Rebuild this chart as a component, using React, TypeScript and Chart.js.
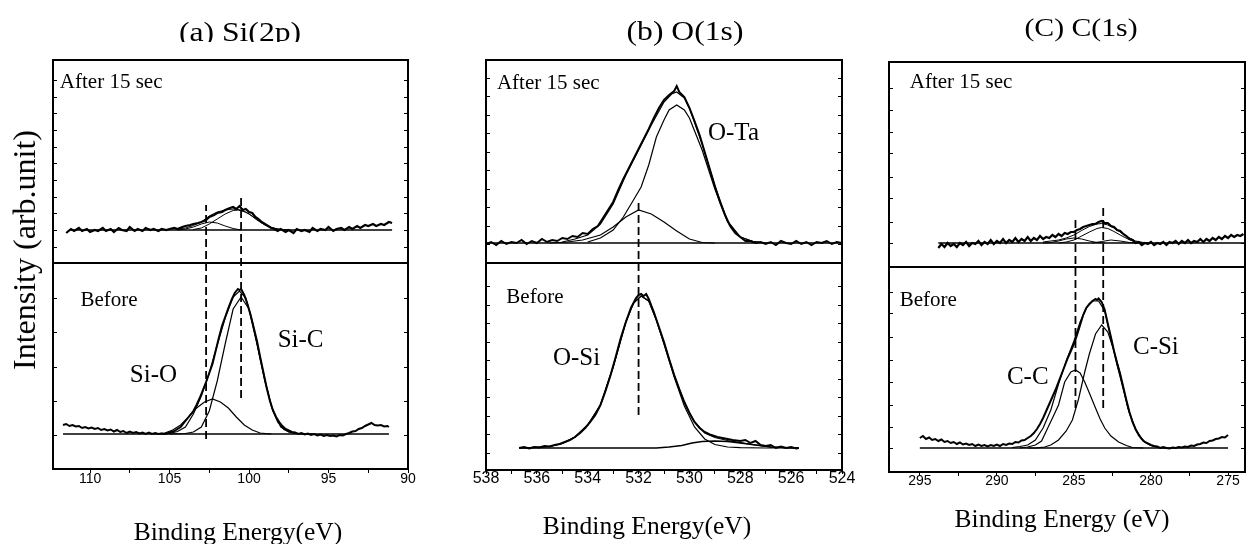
import React, { useEffect, useRef } from "react";
import { Chart, registerables } from "chart.js";
Chart.register(...registerables);

type Pt = [number, number];

const SERIF = '"Liberation Serif", "Times New Roman", Times, serif';
const SANS = '"Liberation Sans", Arial, Helvetica, sans-serif';

// ================= (a) Si(2p) =================
const siAfterRaw: Pt[] = [
  [111.5, 236], [111.2, 240], [111, 238], [110.7, 241], [110.5, 238], [110.2, 240], [110, 237], [109.7, 239],
  [109.5, 238], [109.2, 241], [109, 238], [108.7, 240], [108.5, 237], [108.2, 241], [108, 239], [107.7, 238],
  [107.5, 242], [107.2, 238], [107, 240], [106.7, 238], [106.5, 241], [106.2, 239], [106, 240], [105.7, 238],
  [105.5, 240], [105.2, 239], [105, 240], [104.7, 241], [104.5, 240], [104.2, 242], [104, 243], [103.7, 244],
  [103.5, 245], [103.2, 246], [103, 247], [102.7, 249], [102.5, 252], [102.2, 254], [102, 256], [101.7, 257],
  [101.5, 259], [101.2, 261], [101, 262], [100.8, 260], [100.6, 263], [100.4, 259], [100.2, 260], [100, 257],
  [99.8, 256], [99.6, 252], [99.4, 250], [99.2, 247], [99, 245], [98.8, 243], [98.6, 241], [98.4, 240],
  [98.2, 238], [98, 240], [97.7, 237], [97.5, 239], [97.2, 236], [97, 240], [96.7, 238], [96.5, 239],
  [96.2, 237], [96, 241], [95.7, 238], [95.5, 240], [95.2, 239], [95, 242], [94.7, 238], [94.5, 240],
  [94.2, 241], [94, 239], [93.7, 242], [93.5, 240], [93.2, 243], [93, 241], [92.7, 244], [92.5, 243],
  [92.2, 245], [92, 243], [91.7, 245], [91.5, 244], [91.2, 247], [91, 246],
];
const siAfterEnvelope: Pt[] = [
  [104.5, 240], [104, 241], [103.5, 243.5], [103, 247], [102.5, 253], [102, 257], [101.5, 259], [101, 260],
  [100.5, 259], [100, 255], [99.5, 249], [99, 244], [98.5, 241], [98, 239.5], [97.5, 239],
];
const siAfterSiC: Pt[] = [
  [103.5, 239.5], [103, 241], [102.5, 245], [102, 250], [101.5, 255], [101, 258.5], [100.7, 259], [100.2, 257],
  [99.7, 252], [99.2, 246], [98.7, 242], [98.2, 240], [97.5, 239],
];
const siAfterSiO: Pt[] = [
  [104.5, 239], [104, 240], [103.5, 242], [103, 245], [102.5, 247], [102, 246], [101.5, 243], [101, 240.5], [100.5, 239],
];
const siAfterBase: Pt[] = [[111.3, 239], [91, 239]];

const siBeforeRaw: Pt[] = [
  [111.7, 44], [111.5, 45], [111.3, 43], [111.1, 44], [110.9, 42.5], [110.7, 43], [110.5, 41], [110.3, 42],
  [110.1, 40.5], [109.9, 41.5], [109.7, 40], [109.5, 41], [109.3, 39], [109.1, 40], [108.9, 38.5], [108.7, 39.5],
  [108.5, 37.5], [108.3, 39], [108.1, 37], [107.9, 38], [107.7, 36], [107.5, 37.5], [107.3, 36], [107.1, 37],
  [106.9, 35.5], [106.7, 36.5], [106.5, 35], [106.3, 36.5], [106.1, 35], [105.9, 36], [105.7, 35], [105.5, 35.5],
  [105.3, 35], [105.1, 36], [104.9, 37], [104.7, 38], [104.5, 40], [104.3, 42], [104.1, 46], [103.9, 50],
  [103.7, 54], [103.5, 58], [103.3, 64], [103.1, 71], [102.9, 79], [102.7, 87], [102.5, 96], [102.3, 105],
  [102.1, 118], [101.9, 131], [101.7, 143], [101.5, 152], [101.3, 161], [101.1, 169], [100.9, 176], [100.8, 178],
  [100.7, 180], [100.6, 179], [100.5, 180], [100.4, 177], [100.3, 174], [100.1, 165], [99.9, 154], [99.7, 141],
  [99.5, 128], [99.3, 112], [99.1, 97], [98.9, 82], [98.7, 69], [98.5, 59], [98.3, 52], [98.1, 47],
  [97.9, 43], [97.7, 40], [97.5, 38.5], [97.3, 37], [97.1, 36.5], [96.9, 35], [96.7, 36], [96.5, 34.5],
  [96.3, 35.5], [96.1, 34], [95.9, 35], [95.7, 33.5], [95.5, 34.5], [95.3, 33], [95.1, 34], [94.9, 33],
  [94.7, 33.5], [94.5, 32.5], [94.3, 34], [94.1, 33.5], [93.9, 35], [93.7, 36], [93.5, 37.5], [93.3, 38],
  [93.1, 40], [92.9, 41], [92.7, 43], [92.5, 44.5], [92.3, 46], [92.1, 44], [91.9, 43.5], [91.7, 44],
  [91.5, 42.5], [91.3, 43], [91.2, 42],
];
const siBeforeEnvelope: Pt[] = [
  [105.5, 35], [105, 35.5], [104.5, 37.5], [104, 42], [103.5, 55], [103, 73], [102.5, 96], [102, 124],
  [101.5, 151], [101, 172], [100.6, 178], [100.2, 171], [99.8, 148], [99.4, 119], [99, 89], [98.6, 63],
  [98.2, 47], [97.8, 39.5], [97.4, 36.5], [97, 35.5], [96.5, 35],
];
const siBeforeSiC: Pt[] = [
  [105, 35], [104, 35.5], [103.5, 37], [103, 42], [102.5, 58], [102, 88], [101.5, 125], [101, 160],
  [100.5, 172], [100, 160], [99.5, 125], [99, 88], [98.5, 58], [98, 42], [97.5, 37], [97, 35.5], [96, 35],
];
const siBeforeSiO: Pt[] = [
  [106, 35], [105.3, 36], [104.8, 39], [104.3, 44], [103.8, 52], [103.3, 61], [102.8, 67], [102.3, 70],
  [101.8, 67], [101.3, 61], [100.8, 52], [100.3, 44], [99.8, 39], [99.3, 36], [98.6, 35],
];
const siBeforeBase: Pt[] = [[111.7, 35], [91.2, 35]];
const siDivider: Pt[] = [[90, 206], [112.33, 206]];
const siMarkSiO: Pt[] = [[102.7, 30], [102.7, 264]];
const siMarkSiC: Pt[] = [[100.5, 71], [100.5, 274]];
const siTicksY = [34, 68, 102, 137, 171, 222, 239, 256, 272, 289, 306, 322, 339, 356, 372, 389];

// ================= (b) O(1s) =================
const oAfterRaw: Pt[] = [
  [538, 226], [537.8, 228], [537.6, 225], [537.4, 229], [537.2, 226], [537, 228], [536.8, 227], [536.6, 230],
  [536.4, 226], [536.2, 229], [536, 227], [535.8, 231], [535.6, 228], [535.4, 230], [535.2, 229], [535, 232],
  [534.8, 231], [534.6, 234], [534.4, 233], [534.2, 237], [534, 236], [533.8, 241], [533.6, 244], [533.4, 252],
  [533.2, 260], [533, 268], [532.8, 280], [532.6, 291], [532.4, 301], [532.2, 311], [532, 321], [531.8, 331],
  [531.6, 341], [531.4, 352], [531.2, 362], [531, 370], [530.8, 375], [530.6, 379], [530.5, 384], [530.4, 378],
  [530.2, 373], [530, 362], [529.8, 349], [529.6, 335], [529.4, 318], [529.2, 301], [529, 284], [528.8, 268],
  [528.6, 255], [528.4, 244], [528.2, 237], [528, 233], [527.8, 229], [527.6, 229], [527.4, 227], [527.2, 228],
  [527, 226], [526.8, 228], [526.6, 225], [526.4, 229], [526.2, 227], [526, 226], [525.8, 229], [525.6, 226],
  [525.4, 228], [525.2, 225], [525, 228], [524.8, 227], [524.6, 229], [524.4, 226], [524.2, 228], [524, 227],
];
const oAfterEnvelope: Pt[] = [
  [535, 228], [534.5, 231], [534, 235], [533.5, 246], [533, 266], [532.5, 295], [532, 320], [531.5, 345],
  [531, 368], [530.7, 376], [530.5, 378], [530.2, 372], [530, 362], [529.5, 326], [529, 284], [528.5, 249],
  [528, 233], [527.5, 228.5], [527, 227],
];
const oAfterOTa: Pt[] = [
  [534, 228], [533.5, 232], [533, 240], [532.6, 253], [532.2, 270], [531.9, 283], [531.6, 305], [531.3, 333],
  [531, 350], [530.8, 360], [530.5, 365], [530.2, 360], [530, 352], [529.5, 320], [529, 281], [528.5, 248],
  [528, 233], [527.5, 228.5], [527, 227],
];
const oAfterOSi: Pt[] = [
  [535.5, 227], [534.8, 228], [534.2, 230], [533.5, 235], [533, 243], [532.5, 253], [532, 260], [531.5, 256],
  [531, 248], [530.5, 239], [530, 231], [529.5, 227.5], [529, 227],
];
const oAfterBase: Pt[] = [[538, 227], [524, 227]];

const oBeforeRaw: Pt[] = [
  [536.7, 22], [536.5, 23], [536.3, 21.5], [536.1, 23], [535.9, 22.5], [535.7, 24], [535.5, 23.5], [535.3, 25],
  [535.1, 26], [534.9, 28], [534.7, 30], [534.5, 33], [534.3, 37], [534.1, 42], [533.9, 48], [533.7, 55],
  [533.5, 65], [533.3, 79], [533.1, 95], [532.9, 113], [532.7, 132], [532.5, 148], [532.3, 162], [532.1, 172],
  [532, 175], [531.9, 176], [531.8, 174], [531.7, 176], [531.6, 171], [531.4, 158], [531.2, 143], [531, 128],
  [530.8, 111], [530.6, 95], [530.4, 81], [530.2, 68], [530, 57], [529.8, 48], [529.6, 42], [529.4, 38],
  [529.2, 35.5], [528.9, 33], [528.6, 31.5], [528.3, 30], [528, 29], [527.8, 30], [527.6, 27], [527.4, 29],
  [527.2, 25], [527, 24], [526.8, 25], [526.6, 22], [526.4, 23.5], [526.2, 22], [526, 23], [525.8, 21.5], [525.7, 22],
];
const oBeforeEnvelope: Pt[] = [
  [536.7, 22], [535.5, 23.5], [535, 26.5], [534.5, 33], [534, 45], [533.5, 65], [533, 103], [532.5, 148],
  [532.2, 167], [531.9, 174], [531.6, 169], [531.3, 150], [531, 127], [530.6, 95], [530.2, 67], [529.8, 48],
  [529.4, 37], [529, 32.5], [528.5, 29.5], [528, 27.3], [527.4, 25], [526.8, 23], [526.2, 22.3], [525.7, 22],
];
const oBeforeOSi: Pt[] = [
  [536.7, 22], [536, 22.5], [535.5, 23.5], [535, 26.5], [534.5, 33], [534, 45], [533.5, 65], [533, 103],
  [532.5, 148], [532.2, 167], [531.9, 174], [531.6, 169], [531.3, 150], [531, 126], [530.6, 93], [530.2, 64],
  [529.8, 43], [529.4, 31], [529, 25.5], [528.5, 23], [528, 22.3], [527, 22], [525.7, 22],
];
const oBeforeMinor: Pt[] = [
  [536.7, 22], [531.3, 22], [530.8, 23], [530.3, 24.5], [529.9, 27], [529.5, 28.5], [529, 29], [528.5, 28.5],
  [528, 27], [527.4, 25], [526.8, 23], [526.2, 22.3], [525.7, 22],
];
const oDivider: Pt[] = [[524, 207], [538, 207]];
const oMarkOSi: Pt[] = [[532, 55], [532, 270]];
const oTicksY = [17, 36, 54, 73, 91, 110, 128, 147, 165, 184, 226, 244, 263, 281, 300, 318, 337, 355, 374, 392];

// ================= (c) C(1s) =================
const cAfterRaw: Pt[] = [
  [293.8, 224], [293.6, 228], [293.4, 225], [293.2, 229], [293, 226], [292.8, 228], [292.6, 225], [292.4, 229],
  [292.2, 227], [292, 230], [291.8, 226], [291.6, 229], [291.4, 228], [291.2, 231], [291, 227], [290.8, 230],
  [290.6, 228], [290.4, 232], [290.2, 228], [290, 231], [289.8, 229], [289.6, 233], [289.4, 229], [289.2, 232],
  [289, 230], [288.8, 234], [288.6, 230], [288.4, 233], [288.2, 231], [288, 235], [287.8, 231], [287.6, 234],
  [287.4, 232], [287.2, 236], [287, 233], [286.8, 235], [286.6, 234], [286.4, 237], [286.2, 235], [286, 238],
  [285.8, 236], [285.6, 239], [285.4, 238], [285.2, 240], [285, 240], [284.8, 242], [284.6, 243], [284.4, 245],
  [284.2, 246], [284, 247], [283.8, 248], [283.6, 248], [283.4, 250], [283.2, 251], [283, 249], [282.8, 249],
  [282.6, 246], [282.4, 245], [282.2, 242], [282, 241], [281.8, 238], [281.6, 236], [281.4, 233], [281.2, 232],
  [281, 229], [280.8, 230], [280.6, 227], [280.4, 229], [280.2, 228], [280, 230], [279.8, 227], [279.6, 229],
  [279.4, 228], [279.2, 230], [279, 227], [278.8, 230], [278.6, 229], [278.4, 231], [278.2, 228], [278, 231],
  [277.8, 229], [277.6, 232], [277.4, 229], [277.2, 231], [277, 230], [276.8, 233], [276.6, 230], [276.4, 233],
  [276.2, 231], [276, 234], [275.8, 232], [275.6, 235], [275.4, 233], [275.2, 236], [275, 234], [274.8, 237],
  [274.6, 235], [274.4, 237], [274.2, 236], [274, 238],
];
const cAfterEnvelope: Pt[] = [
  [287, 230], [286, 232], [285.5, 234], [285, 237], [284.5, 241.5], [284, 245.5], [283.5, 248], [283.2, 248.5],
  [282.8, 247], [282.4, 244], [282, 240], [281.5, 235], [281, 231], [280.5, 229.5], [280, 229],
];
const cAfterCSi: Pt[] = [
  [286, 229], [285.5, 230], [285, 232], [284.5, 236], [284, 240], [283.5, 243.5], [283.2, 244.5], [282.8, 243.5],
  [282.4, 240.5], [282, 237], [281.5, 233], [281, 230], [280.5, 229],
];
const cAfterCC: Pt[] = [
  [287, 229], [286.5, 229.5], [286, 231], [285.5, 233], [285, 234], [284.5, 233], [284, 231], [283.5, 229.5], [283, 229],
];
const cAfterMinor: Pt[] = [
  [283.8, 229], [283.2, 230.5], [282.6, 232], [282, 231], [281.4, 229.5], [280.8, 229],
];
const cAfterBase: Pt[] = [[293.8, 229], [273.9, 229]];

const cBeforeRaw: Pt[] = [
  [295, 34], [294.8, 36], [294.6, 33], [294.4, 34.5], [294.2, 32], [294, 33], [293.8, 31], [293.6, 32.5],
  [293.4, 30], [293.2, 31], [293, 29], [292.8, 30], [292.6, 28], [292.4, 29.5], [292.2, 27.5], [292, 28.5],
  [291.8, 27], [291.6, 28], [291.4, 26], [291.2, 27.5], [291, 26], [290.8, 27], [290.6, 25.5], [290.4, 27],
  [290.2, 26], [290, 27.5], [289.8, 26], [289.6, 28], [289.4, 27], [289.2, 28.5], [289, 28], [288.8, 30],
  [288.6, 29.5], [288.4, 31.5], [288.2, 32], [288, 34], [287.8, 36], [287.6, 39], [287.4, 43], [287.2, 48],
  [287, 54], [286.8, 61], [286.6, 68], [286.4, 75], [286.2, 82], [286, 90], [285.8, 98], [285.6, 106],
  [285.4, 114], [285.2, 121], [285, 128], [284.8, 137], [284.6, 147], [284.4, 157], [284.2, 164], [284, 168],
  [283.8, 171], [283.6, 173], [283.5, 172], [283.4, 173.5], [283.2, 170], [283, 162], [282.8, 148], [282.6, 135],
  [282.4, 121], [282.2, 109], [282, 98], [281.8, 85], [281.6, 72], [281.4, 60], [281.2, 50], [281, 43],
  [280.8, 37], [280.6, 33], [280.4, 30], [280.2, 28.5], [280, 27], [279.8, 26], [279.6, 25.5], [279.4, 24],
  [279.2, 25], [279, 24], [278.8, 23.5], [278.6, 24.5], [278.4, 24], [278.2, 25], [278, 24.5], [277.8, 25.5],
  [277.6, 25], [277.4, 26.5], [277.2, 26], [277, 27.5], [276.8, 28], [276.6, 29.5], [276.4, 29], [276.2, 31],
  [276, 31.5], [275.8, 33], [275.6, 33.5], [275.4, 35], [275.2, 34.5], [275, 37],
];
const cBeforeEnvelope: Pt[] = [
  [289, 24.5], [288.5, 25.5], [288, 27], [287.5, 32], [287, 44], [286.5, 62], [286, 88], [285.5, 111],
  [285, 131], [284.6, 150], [284.2, 164], [283.8, 171], [283.4, 171], [283, 161], [282.6, 134], [282.2, 107],
  [281.8, 83], [281.4, 59], [281, 43], [280.5, 31], [280, 26.5], [279.5, 24.5], [279, 24],
];
const cBeforeCC: Pt[] = [
  [288.5, 24], [288, 25], [287.5, 27], [287.1, 31], [286.7, 44], [286.3, 57], [286, 67], [285.6, 90],
  [285.2, 100], [284.9, 102], [284.6, 99], [284.3, 90], [284, 79], [283.6, 64], [283.3, 53], [283, 44],
  [282.6, 36], [282.1, 30], [281.6, 26.5], [281.2, 24.5], [280.5, 24],
];
const cBeforeCSi: Pt[] = [
  [288, 24], [287.4, 24.2], [286.9, 25], [286.5, 27], [286, 32], [285.5, 41], [285.1, 52], [284.7, 73],
  [284.3, 100], [284, 118], [283.6, 138], [283.2, 147], [282.8, 140], [282.4, 121], [282, 98], [281.5, 64],
  [281, 42], [280.5, 31], [280, 26.5], [279.5, 24.5], [279, 24],
];
const cBeforeBase: Pt[] = [[295, 24], [275, 24]];
const cDivider: Pt[] = [[273.9, 205], [297, 205]];
const cMarkCC: Pt[] = [[284.9, 64], [284.9, 254]];
const cMarkCSi: Pt[] = [[283.1, 64], [283.1, 267]];
const cTicksY = [24, 45, 67, 90, 112, 135, 159, 180, 229, 250, 274, 295, 319, 340, 362, 384];

// ================= panel definitions =================
type Curve = { pts: Pt[]; w: number; dash?: number[] };
type Label = { text: string; x: number; y: number; size: number };
type PanelDef = {
  canvasLeft: number; canvasWidth: number; padLeft: number; padRight: number; padTop: number; padBottom: number;
  xMin: number; xMax: number; yMax: number; step: number; labelEvery: number; tickFont: number; tickPad: number;
  curves: Curve[]; yTicks: number[]; labels: Label[];
};

const DASH = [8, 4];

const panels: PanelDef[] = [
  {
    canvasLeft: 0, canvasWidth: 440, padLeft: 53, padRight: 32, padTop: 60, padBottom: 45,
    xMin: 90, xMax: 112.33, yMax: 409, step: 2.5, labelEvery: 5, tickFont: 14, tickPad: -1,
    curves: [
      { pts: siDivider, w: 2 },
      { pts: siAfterBase, w: 1.3 }, { pts: siAfterSiO, w: 1 }, { pts: siAfterSiC, w: 1 },
      { pts: siAfterEnvelope, w: 1 }, { pts: siAfterRaw, w: 2.2 },
      { pts: siBeforeBase, w: 1.3 }, { pts: siBeforeSiO, w: 1.2 }, { pts: siBeforeSiC, w: 1.2 },
      { pts: siBeforeEnvelope, w: 1.2 }, { pts: siBeforeRaw, w: 2 },
      { pts: siMarkSiO, w: 1.8, dash: DASH }, { pts: siMarkSiC, w: 1.8, dash: DASH },
    ],
    yTicks: siTicksY,
    labels: [
      { text: "After 15 sec", x: 111.9, y: 387, size: 21 },
      { text: "Before", x: 110.6, y: 169, size: 21 },
      { text: "Si-O", x: 107.5, y: 94, size: 25 },
      { text: "Si-C", x: 98.2, y: 129, size: 25 },
    ],
  },
  {
    canvasLeft: 440, canvasWidth: 430, padLeft: 46, padRight: 28, padTop: 60, padBottom: 44,
    xMin: 524, xMax: 538, yMax: 410, step: 1, labelEvery: 2, tickFont: 16, tickPad: -3,
    curves: [
      { pts: oDivider, w: 2 },
      { pts: oAfterBase, w: 1.3 }, { pts: oAfterOSi, w: 1.2 }, { pts: oAfterOTa, w: 1.2 },
      { pts: oAfterEnvelope, w: 1.2 }, { pts: oAfterRaw, w: 2 },
      { pts: oBeforeMinor, w: 1.3 }, { pts: oBeforeOSi, w: 1.2 }, { pts: oBeforeEnvelope, w: 1.2 },
      { pts: oBeforeRaw, w: 2 },
      { pts: oMarkOSi, w: 1.8, dash: DASH },
    ],
    yTicks: oTicksY,
    labels: [
      { text: "After 15 sec", x: 537.57, y: 387, size: 21 },
      { text: "Before", x: 537.2, y: 173, size: 21 },
      { text: "O-Ta", x: 529.27, y: 337, size: 25 },
      { text: "O-Si", x: 535.37, y: 112, size: 25 },
    ],
  },
  {
    canvasLeft: 860, canvasWidth: 391, padLeft: 29, padRight: 6, padTop: 62, padBottom: 42,
    xMin: 273.9, xMax: 297, yMax: 410, step: 2.5, labelEvery: 5, tickFont: 14, tickPad: -2,
    curves: [
      { pts: cDivider, w: 2 },
      { pts: cAfterBase, w: 1.3 }, { pts: cAfterMinor, w: 1 }, { pts: cAfterCC, w: 1 }, { pts: cAfterCSi, w: 1 },
      { pts: cAfterEnvelope, w: 1 }, { pts: cAfterRaw, w: 2.2 },
      { pts: cBeforeBase, w: 1.3 }, { pts: cBeforeCC, w: 1.2 }, { pts: cBeforeCSi, w: 1.2 },
      { pts: cBeforeEnvelope, w: 1.2 }, { pts: cBeforeRaw, w: 2 },
      { pts: cMarkCC, w: 1.8, dash: DASH }, { pts: cMarkCSi, w: 1.8, dash: DASH },
    ],
    yTicks: cTicksY,
    labels: [
      { text: "After 15 sec", x: 295.65, y: 390, size: 21 },
      { text: "Before", x: 296.3, y: 172, size: 21 },
      { text: "C-Si", x: 281.17, y: 125, size: 25 },
      { text: "C-C", x: 289.35, y: 95, size: 25 },
    ],
  },
];

const AXIS_H = 30;
const H = 544;

function Panel({ def }: { def: PanelDef }) {
  const ref = useRef<HTMLCanvasElement | null>(null);
  useEffect(() => {
    const canvas = ref.current;
    if (!canvas) return;
    const framePlugin = {
      id: "frame",
      afterDatasetsDraw(chart: any) {
        const { ctx, chartArea } = chart;
        const { left, top, right, bottom } = chartArea;
        const ys = chart.scales.y;
        const xs = chart.scales.x;
        ctx.save();
        ctx.strokeStyle = "#000";
        ctx.lineWidth = 1;
        ctx.beginPath();
        def.yTicks.forEach((v) => {
          const y = Math.round(ys.getPixelForValue(v)) + 0.5;
          ctx.moveTo(left, y);
          ctx.lineTo(left + 4, y);
          ctx.moveTo(right, y);
          ctx.lineTo(right - 4, y);
        });
        ctx.stroke();
        ctx.lineWidth = 2;
        ctx.strokeRect(left, top, right - left, bottom - top);
        ctx.fillStyle = "#000";
        ctx.textBaseline = "middle";
        ctx.textAlign = "left";
        def.labels.forEach((l) => {
          ctx.font = `${l.size}px ${SERIF}`;
          ctx.fillText(l.text, xs.getPixelForValue(l.x), ys.getPixelForValue(l.y));
        });
        ctx.restore();
      },
    };
    const chart = new Chart(canvas, {
      type: "scatter",
      data: {
        datasets: def.curves.map((c) => ({
          data: c.pts.map(([x, y]) => ({ x, y })),
          showLine: true,
          borderColor: "#000",
          backgroundColor: "#000",
          borderWidth: c.w,
          borderDash: c.dash || [],
          pointRadius: 0,
          pointHoverRadius: 0,
          fill: false,
          tension: 0,
        })),
      },
      options: {
        animation: false,
        responsive: false,
        events: [],
        layout: {
          padding: { left: def.padLeft, right: def.padRight, top: def.padTop, bottom: def.padBottom },
        },
        plugins: { legend: { display: false }, tooltip: { enabled: false }, title: { display: false } },
        scales: {
          x: {
            type: "linear",
            reverse: true,
            min: def.xMin,
            max: def.xMax,
            afterFit: (s: any) => {
              s.height = AXIS_H;
            },
            border: { display: false },
            grid: { display: true, drawOnChartArea: false, drawTicks: true, tickLength: 4, color: "#000", lineWidth: 1 },
            ticks: {
              stepSize: def.step,
              includeBounds: false,
              autoSkip: false,
              maxRotation: 0,
              padding: def.tickPad,
              color: "#000",
              font: { family: SANS, size: def.tickFont, lineHeight: 1 },
              callback: (v: any) => {
                const n = Number(v);
                const r = n / def.labelEvery;
                return Math.abs(r - Math.round(r)) < 1e-6 ? String(Math.round(n)) : "";
              },
            },
          },
          y: { type: "linear", display: false, min: 0, max: def.yMax },
        },
      },
      plugins: [framePlugin],
    } as any);
    return () => chart.destroy();
  }, [def]);
  return (
    <canvas
      ref={ref}
      width={def.canvasWidth}
      height={H}
      style={{ position: "absolute", left: def.canvasLeft, top: 0, width: def.canvasWidth, height: H }}
    />
  );
}

function Txt(props: { text: string; cx: number; baseline: number; fs: number; sx?: number }) {
  const { text, cx, baseline, fs, sx = 1 } = props;
  return (
    <div
      style={{
        position: "absolute",
        left: cx,
        top: baseline - 0.8375 * fs,
        fontFamily: SERIF,
        fontSize: fs,
        lineHeight: `${fs}px`,
        whiteSpace: "nowrap",
        transform: `translateX(-50%) scaleX(${sx})`,
        color: "#000",
      }}
    >
      {text}
    </div>
  );
}

export default function App() {
  return (
    <div style={{ position: "absolute", left: 0, top: 0, width: 1251, height: H, overflow: "hidden", background: "#fff" }}>
      {panels.map((p, i) => (
        <Panel key={i} def={p} />
      ))}
      <div style={{ position: "absolute", left: 0, top: 0, width: 480, height: 42, overflow: "hidden" }}>
        <Txt text="(a) Si(2p)" cx={240} baseline={41} fs={28} sx={1.13} />
      </div>
      <Txt text="(b) O(1s)" cx={685} baseline={40.5} fs={28} sx={1.13} />
      <Txt text="(C) C(1s)" cx={1081} baseline={35.5} fs={25} sx={1.19} />
      <Txt text="Binding Energy(eV)" cx={238} baseline={540} fs={25.5} />
      <Txt text="Binding Energy(eV)" cx={647} baseline={534} fs={25.5} />
      <Txt text="Binding Energy (eV)" cx={1062} baseline={527} fs={25.5} />
      <div
        style={{
          position: "absolute",
          left: 24,
          top: 250,
          fontFamily: SERIF,
          fontSize: 32,
          lineHeight: "32px",
          whiteSpace: "nowrap",
          transform: "translate(-50%, -50%) rotate(-90deg)",
          color: "#000",
        }}
      >
        Intensity (arb.unit)
      </div>
    </div>
  );
}
